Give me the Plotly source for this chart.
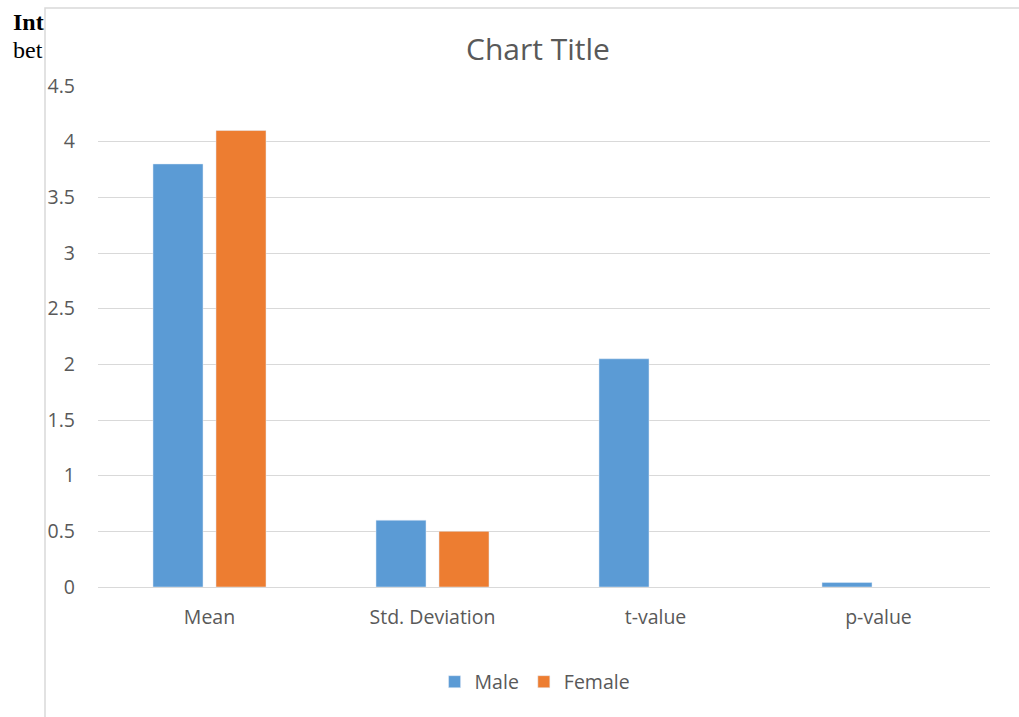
import plotly.graph_objects as go

categories = ["Mean", "Std. Deviation", "t-value", "p-value"]
male = [3.8, 0.6, 2.05, 0.04]
female = [4.1, 0.5, None, None]
y_ticks = [0, 0.5, 1, 1.5, 2, 2.5, 3, 3.5, 4, 4.5]
y_tick_text = ["0", "0.5", "1", "1.5", "2", "2.5", "3", "3.5", "4", "4.5"]

W, H = 1019, 717
L, R, T, B = 98, 29, 86, 130
pw, ph = W - L - R, H - T - B

def px(x):
    return (x - L) / pw

def py(y):
    return (H - B - y) / ph

font_fam = "Open Sans, Lato, sans-serif"
grey = "#595959"

fig = go.Figure()
fig.add_trace(go.Bar(x=categories, y=male, name="Male", marker_color="#5b9bd5"))
fig.add_trace(go.Bar(x=categories, y=female, name="Female", marker_color="#ed7d31"))

fig.update_layout(
    width=W, height=H,
    margin=dict(l=L, r=R, t=T, b=B, autoexpand=False),
    paper_bgcolor="white", plot_bgcolor="white",
    barmode="group", bargap=0.435, bargroupgap=0.206,
    showlegend=True,
    legend=dict(orientation="h", x=0.49, xanchor="center", y=py(682), yanchor="middle",
                font=dict(family=font_fam, size=19.5, color=grey), itemwidth=30),
    xaxis=dict(showgrid=False, showline=False, ticks="", zeroline=False,
               tickfont=dict(family=font_fam, size=19.5, color=grey), ticklabelstandoff=16),
    yaxis=dict(range=[0, 4.5], tickvals=y_ticks, ticktext=y_tick_text,
               showgrid=True, gridcolor="#d9d9d9", gridwidth=1,
               zeroline=True, zerolinecolor="#d9d9d9", zerolinewidth=1,
               showline=False, ticks="",
               tickfont=dict(family=font_fam, size=19.5, color=grey), ticklabelstandoff=22),
    annotations=[
        dict(text="Chart Title", x=px(538), y=py(48), xref="paper", yref="paper",
             showarrow=False, xanchor="center", yanchor="middle",
             font=dict(family=font_fam, size=30, color=grey)),
        dict(text="<b>Int</b>", x=px(11), y=py(22), xref="paper", yref="paper",
             showarrow=False, xanchor="left", yanchor="middle",
             font=dict(family="Liberation Serif", size=24, color="black")),
        dict(text="bet", x=px(11), y=py(50), xref="paper", yref="paper",
             showarrow=False, xanchor="left", yanchor="middle",
             font=dict(family="Liberation Serif", size=24, color="black")),
    ],
    shapes=[
        dict(type="rect", xref="paper", yref="paper", x0=px(45), x1=px(1030), y0=py(730), y1=py(8),
             fillcolor="white", line=dict(color="#d9d9d9", width=1.5), layer="below"),
    ],
)

fig.write_html("out.html")
